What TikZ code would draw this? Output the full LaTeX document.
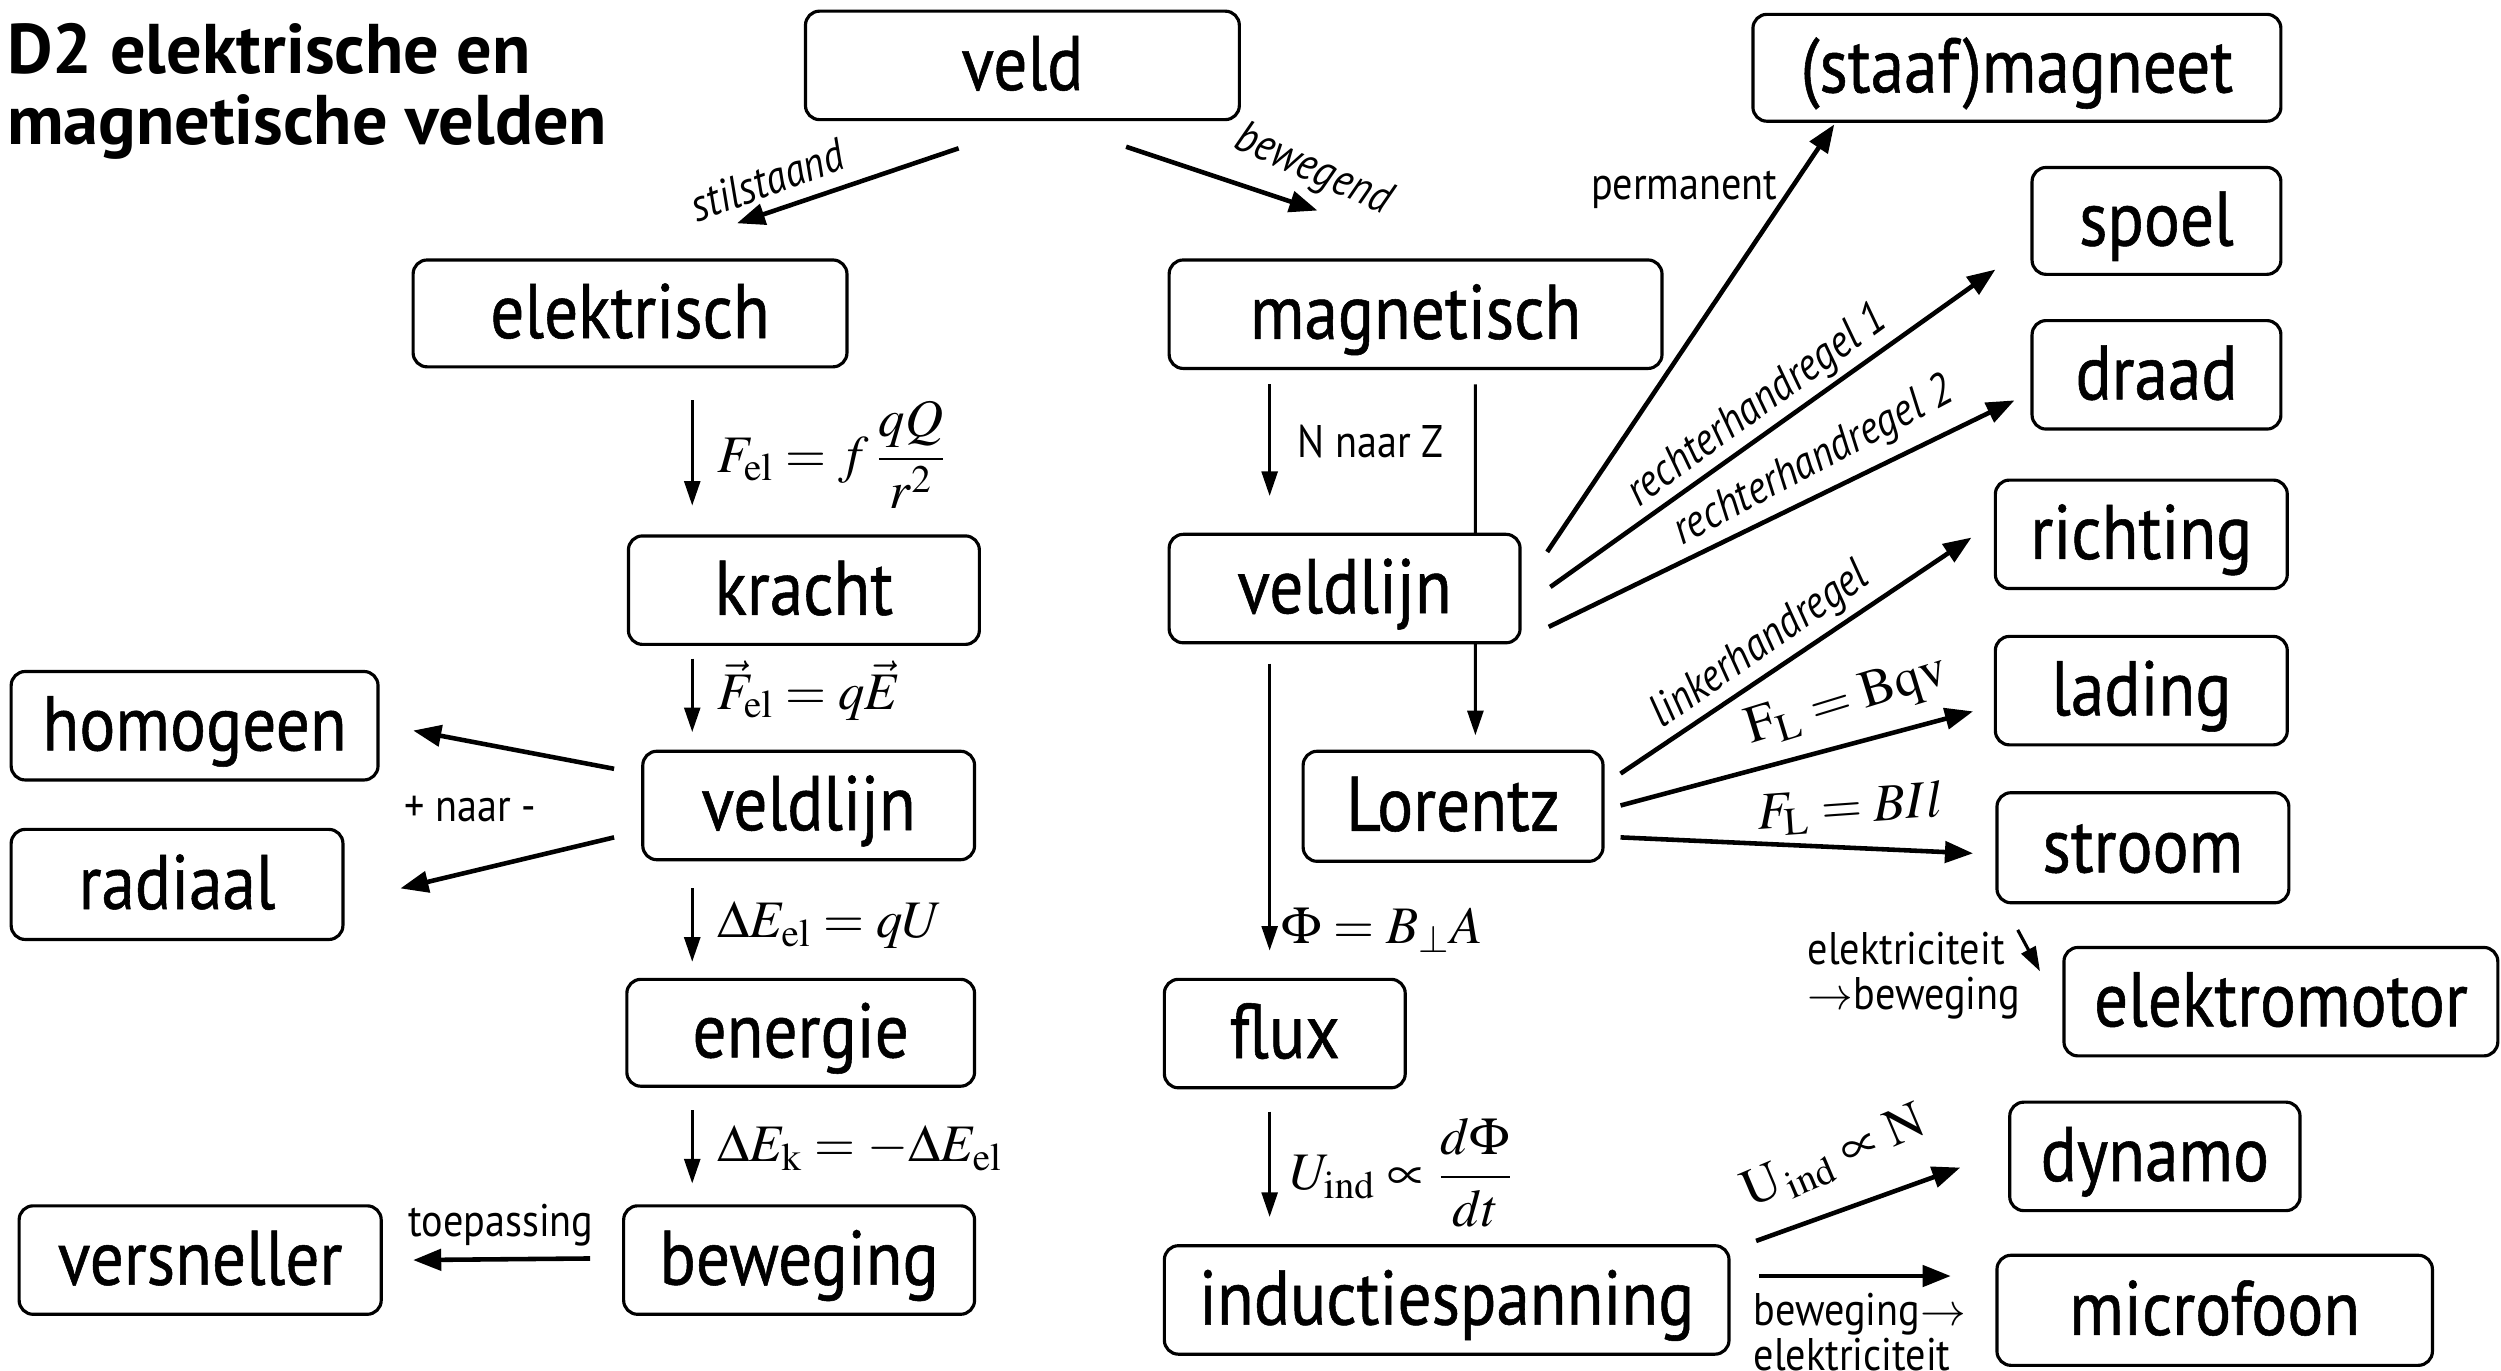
\documentclass[tikz,border=0pt]{standalone}
\usepackage{amsmath}
\usepackage{mathptmx}
\usepackage[no-math]{fontspec}
\setmainfont{PT Sans}[FakeStretch=0.88]
\newfontfamily\boxfam{PT Sans}[FakeStretch=0.87, FakeBold=0.7]
\newfontfamily\titlefam{PT Sans}
\usetikzlibrary{arrows.meta,calc}
\newdimen\unitpx \unitpx=0.01595cm
\pgfdeclarelayer{bg}\pgfsetlayers{bg,main}
\newcommand\boxfont{\boxfam\fontsize{22}{26}\selectfont}
\newcommand\lblfont{\fontsize{13}{12.8}\selectfont}
\newcommand\mthfont{\fontsize{15}{18}\selectfont}
\newcommand\bx[6]{\node[box, minimum width=#4\unitpx, minimum height=#5\unitpx] (#1) at (#2,#3) {#6};}
\tikzset{
  box/.style={draw, line width=0.9pt, rounded corners=0.14cm, fill=white, inner sep=0pt,
    font=\boxfont, text height=16pt, text depth=2pt},
  arr/.style={-{Triangle[length=8pt,width=6pt]}, line width=1.3pt},
  varr/.style={-{Triangle[length=7pt,width=4.5pt]}, line width=0.9pt},
  lbl/.style={font=\lblfont, inner sep=1pt},
  ilbl/.style={font=\lblfont\itshape, inner sep=1pt},
  mth/.style={font=\mthfont, inner sep=1pt},
}
\begin{document}
\begin{tikzpicture}[x=0.01595cm, y=-0.01595cm]
\useasboundingbox (0,0) rectangle (1568,859);
\node[font=\titlefam\bfseries\fontsize{20}{20.4}\selectfont, align=left, anchor=north west, inner sep=0pt] (title) at (4,14) {D2 elektrische en\\magnetische velden};
% boxes
\bx{veld}{641}{41}{272}{68}{veld}
\bx{staaf}{1264.5}{42.5}{331}{67}{(staaf)magneet}
\bx{elektrisch}{395}{196.5}{272}{67}{elektrisch}
\bx{magnetisch}{887.5}{197}{309}{68}{magnetisch}
\bx{spoel}{1352}{138.5}{156}{67}{spoel}
\bx{draad}{1352}{235}{156}{68}{draad}
\bx{kracht}{504}{370}{220}{68}{kracht}
\bx{veldlijnM}{843}{369}{220}{68}{veldlijn}
\bx{richting}{1342.5}{335}{183}{68}{richting}
\bx{homogeen}{122}{455}{230}{68}{homogeen}
\bx{veldlijnE}{507}{505}{208}{68}{veldlijn}
\bx{Lorentz}{911}{505.5}{188}{69}{Lorentz}
\bx{lading}{1342.5}{433}{183}{68}{lading}
\bx{radiaal}{111}{554.5}{208}{69}{radiaal}
\bx{stroom}{1343.5}{531.5}{183}{69}{stroom}
\bx{elektromotor}{1430}{628}{272}{68}{elektromotor}
\bx{energie}{502}{647.5}{218}{67}{energie}
\bx{flux}{805.5}{648}{151}{68}{flux}
\bx{dynamo}{1351}{725}{182}{68}{dynamo}
\bx{versneller}{125.5}{790}{227}{68}{versneller}
\bx{beweging}{501}{790}{220}{68}{beweging}
\bx{inductie}{907}{815}{354}{68}{inductiespanning}
\bx{microfoon}{1388.5}{821.5}{273}{69}{microfoon}
% connectors
\draw[arr] ($(veld.south)+(-40,17)$) -- ($(elektrisch.north)+(67,-22)$);
\draw[arr] ($(veld.south)+(65,16)$) -- ($(magnetisch.north)+(-61.5,-30)$);
\draw[varr] ($(elektrisch.south)+(39,20)$) -- ($(kracht.north)+(-70,-18)$);
\draw[varr] ($(kracht.south)+(-70,8)$) -- ($(veldlijnE.north)+(-73,-11)$);
\draw[arr] ($(veldlijnE.west)+(-17,-23)$) -- ($(homogeen.east)+(21,3)$);
\draw[arr] ($(veldlijnE.west)+(-17,20)$) -- ($(radiaal.east)+(35,2.5)$);
\draw[varr] ($(veldlijnE.south)+(-73,17)$) -- ($(energie.north)+(-68,-10)$);
\draw[varr] ($(energie.south)+(-68,14)$) -- ($(beweging.north)+(-67,-13)$);
\draw[arr] ($(beweging.west)+(-20,-1)$) -- ($(versneller.east)+(19,0)$);
\draw[varr] ($(magnetisch.south)+(-91.5,9)$) -- ($(veldlijnM.north)+(-47,-23)$);
\begin{pgfonlayer}{bg}
\draw[varr] ($(magnetisch.south)+(37.5,9)$) -- ($(Lorentz.north)+(14,-9)$);
\end{pgfonlayer}
\draw[varr] ($(veldlijnM.south)+(-47,12)$) -- ($(flux.north)+(-9.5,-17)$);
\draw[varr] ($(flux.south)+(-9.5,14)$) -- ($(inductie.north)+(-111,-17)$);
\draw[arr] ($(veldlijnM.east)+(16,-23)$) -- ($(staaf.south)+(-114.5,1)$);
\draw[arr] ($(veldlijnM.east)+(18,-1)$) -- ($(spoel.west)+(-22,30.5)$);
\draw[arr] ($(veldlijnM.east)+(17,24)$) -- ($(draad.west)+(-10,16)$);
\draw[arr] ($(Lorentz.east)+(10,-20.5)$) -- ($(richting.west)+(-14,2)$);
\draw[arr] ($(Lorentz.east)+(10,-0.5)$) -- ($(lading.west)+(-13,13)$);
\draw[arr] ($(Lorentz.east)+(10,19.5)$) -- ($(stroom.west)+(-14,3.5)$);
\coordinate (emfrom) at (1265,583);
\draw[varr] (emfrom) -- ($(elektromotor.north west)+(-14,16)$);
\draw[arr] ($(inductie.east)+(16,-37)$) -- ($(dynamo.west)+(-30,7)$);
\draw[arr] ($(inductie.east)+(18,-15)$) -- ($(microfoon.west)+(-28,-21.5)$);
% labels
\node[ilbl, rotate=20] (l1) at (481,113) {stilstaand};
\node[ilbl, rotate=-24] (l2) at (823,107) {bewegend};
\node[mth, anchor=west] (l3) at (447,285) {$F_{\mathrm{el}}=f\,\dfrac{qQ}{r^2}$};
\node[mth, anchor=west] (l4) at (447,433) {$\vec F_{\mathrm{el}}=q\vec E$};
\node[lbl] (l5) at (295,507) {+ naar -};
\node[mth, anchor=west] (l6) at (447,580) {$\Delta E_{\mathrm{el}}=qU$};
\node[mth, anchor=west] (l7) at (447,720) {$\Delta E_{\mathrm{k}}=-\Delta E_{\mathrm{el}}$};
\node[lbl] (l8) at (314,768) {toepassing};
\node[lbl, anchor=west] (l9) at (811,277) {N naar Z};
\node[mth, anchor=west] (l10) at (801,583) {$\Phi=B_{\perp}A$};
\node[mth, anchor=west] (l11) at (806,735) {$U_{\mathrm{ind}}\propto\dfrac{d\Phi}{dt}$};
\node[lbl] (l12) at (1056,119) {permanent};
\node[ilbl, rotate=36] (l13) at (1102,255) {rechterhandregel 1};
\node[ilbl, rotate=28] (l14) at (1137,290) {rechterhandregel 2};
\node[ilbl, rotate=35] (l15) at (1104,405) {linkerhandregel};
\node[mth, rotate=17] (l16) at (1158,440) {$\mathrm{F}_{\mathrm{L}}=\mathrm{Bqv}$};
\node[mth, rotate=4] (l17) at (1160,507) {$F_{\mathrm{L}}=BIl$};
\node[lbl, align=left] (l18) at (1200,612) {elektriciteit\\$\rightarrow$beweging};
\node[mth, rotate=23] (l19) at (1150,726) {$\mathrm{U}_{\,\mathrm{ind}}\propto\mathrm{N}$};
\node[lbl, align=left] (l20) at (1166,835) {beweging$\rightarrow$\\elektriciteit};
\end{tikzpicture}
\end{document}
